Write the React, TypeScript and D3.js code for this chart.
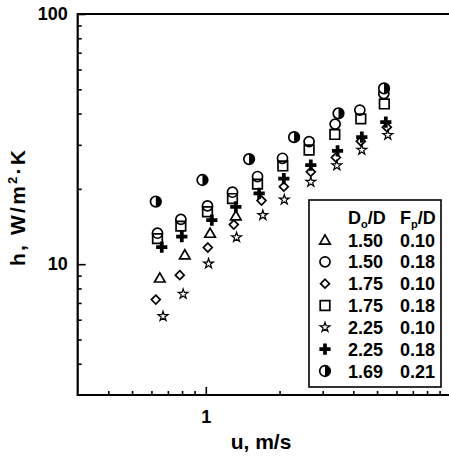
import React, { useEffect, useRef } from 'react';
import * as d3 from 'd3';

const W = 449;
const H = 458;

// legend columns
const doD = ['1.50', '1.50', '1.75', '1.75', '2.25', '2.25', '1.69'];
const fpD = ['0.10', '0.18', '0.10', '0.18', '0.10', '0.18', '0.21'];
const markers = ['triangle', 'circle', 'diamond', 'square', 'star', 'plus', 'half'];

// u, m/s and h, W/m2K per series
const uTri = [0.649, 0.821, 1.041, 1.326];
const hTri = [8.81, 10.9, 13.3, 15.6];

const uCirc = [0.635, 0.791, 1.016, 1.285, 1.626, 2.056, 2.64, 3.372, 4.253, 5.328];
const hCirc = [13.3, 15.1, 17.1, 19.4, 22.4, 26.5, 30.9, 36.3, 41.3, 48.1];

const uDiam = [0.625, 0.783, 1.019, 1.301, 1.688, 2.082, 2.683, 3.394, 4.293, 5.48];
const hDiam = [7.22, 9.04, 11.66, 14.4, 17.95, 20.4, 23.4, 26.7, 31.0, 35.3];

const uSq = [0.635, 0.791, 1.016, 1.285, 1.626, 2.062, 2.64, 3.362, 4.293, 5.354];
const hSq = [12.65, 14.2, 16.2, 18.3, 20.9, 24.7, 28.6, 33.0, 38.1, 43.7];

const uStar = [0.669, 0.808, 1.026, 1.335, 1.709, 2.091, 2.683, 3.426, 4.333, 5.533];
const hStar = [6.19, 7.6, 10.05, 12.8, 15.7, 18.1, 21.3, 24.8, 28.6, 32.8];

const uPlus = [0.661, 0.798, 1.058, 1.326, 1.651, 2.082, 2.683, 3.449, 4.333, 5.429];
const hPlus = [11.7, 12.9, 15.0, 16.95, 19.2, 22.0, 24.9, 28.4, 32.2, 37.0];

const uHalf = [0.625, 0.969, 1.502, 2.293, 3.48, 5.34];
const hHalf = [17.8, 21.7, 26.3, 32.2, 40.1, 50.4];

const uSeries = [uTri, uCirc, uDiam, uSq, uStar, uPlus, uHalf];
const hSeries = [hTri, hCirc, hDiam, hSq, hStar, hPlus, hHalf];

const xMinor = [0.4, 0.5, 0.6, 0.7, 0.8, 0.9, 2, 3, 4, 5, 6, 7, 8, 9];
const xMajor = [1];
const yMinor = [4, 5, 6, 7, 8, 9, 20, 30, 40, 50, 60, 70, 80, 90];
const yMajor = [10, 100];

const FONT = '"Liberation Sans", Arial, sans-serif';

function drawMarker(g, kind) {
  const sw = 1.7;
  if (kind === 'half') {
    const r = 5.3;
    g.append('circle').attr('r', r).attr('fill', 'white').attr('stroke', '#000').attr('stroke-width', sw);
    g.append('path').attr('d', `M0,${-r}A${r},${r} 0 0 1 0,${r}Z`).attr('fill', '#000');
    return;
  }
  const types = {
    triangle: [d3.symbolTriangle, 48],
    circle: [d3.symbolCircle, 80],
    diamond: [d3.symbolDiamond2, 50],
    square: [d3.symbolSquare, 92],
    star: [d3.symbolStar, 30],
    plus: [d3.symbolCross, 70],
  };
  const [type, size] = types[kind];
  const p = g.append('path').attr('d', d3.symbol(type, size)());
  if (kind === 'plus') p.attr('fill', '#000');
  else p.attr('fill', 'none').attr('stroke', '#000').attr('stroke-width', kind === 'star' ? 1.2 : sw);
  if (kind === 'triangle') p.attr('transform', 'translate(0,1)');
}

const Chart = () => {
  const ref = useRef(null);

  useEffect(() => {
    const svg = d3.select(ref.current);
    svg.selectAll('*').remove();

    const left = 77.7, top = 14, right = 450.8, bottom = 395;
    const x = d3.scaleLog().domain([0.3, 10]).range([left, right]);
    const y = d3.scaleLog().domain([3, 100]).range([bottom, top]);

    // ticks (inside)
    const gx = svg.append('g').attr('transform', `translate(0,${bottom})`);
    gx.call(d3.axisBottom(x).tickValues(xMinor).tickSize(-4).tickFormat(() => ''));
    const gx2 = svg.append('g').attr('transform', `translate(0,${bottom})`);
    gx2.call(d3.axisBottom(x).tickValues(xMajor).tickSize(-8).tickPadding(15).tickFormat(d3.format('d')));
    const gy = svg.append('g').attr('transform', `translate(${left},0)`);
    gy.call(d3.axisLeft(y).tickValues(yMinor).tickSize(-4).tickFormat(() => ''));
    const gy2 = svg.append('g').attr('transform', `translate(${left},0)`);
    gy2.call(d3.axisLeft(y).tickValues(yMajor).tickSize(-8).tickPadding(10).tickFormat(d3.format('d')));
    svg.selectAll('.domain').remove();
    svg.selectAll('.tick line').attr('stroke', '#000').attr('stroke-width', 1.6);
    svg.selectAll('.tick text')
      .attr('font-family', FONT).attr('font-size', 18).attr('font-weight', 'bold').attr('fill', '#000');

    // frame
    svg.append('path')
      .attr('d', `M${right},${bottom}H${left}V${top}H${right}Z`)
      .attr('fill', 'none').attr('stroke', '#000').attr('stroke-width', 2.2);

    // data
    markers.forEach((kind, i) => {
      uSeries[i].forEach((u, j) => {
        const g = svg.append('g').attr('transform', `translate(${x(u)},${y(hSeries[i][j])})`);
        drawMarker(g, kind);
      });
    });

    // axis titles
    svg.append('text')
      .attr('x', 261).attr('y', 449).attr('text-anchor', 'middle')
      .attr('font-family', FONT).attr('font-size', 21).attr('font-weight', 'bold')
      .text('u, m/s');
    const yl = svg.append('text')
      .attr('transform', 'translate(25,207) rotate(-90)').attr('text-anchor', 'middle')
      .attr('font-family', FONT).attr('font-size', 21).attr('font-weight', 'bold')
      .attr('letter-spacing', 2.2);
    yl.append('tspan').text('h, W/m');
    yl.append('tspan').attr('font-size', 13).attr('dy', -8).text('2');
    yl.append('tspan').attr('dy', 8).text('\u00b7K');

    // legend
    const lg = svg.append('g');
    lg.append('rect').attr('x', 309).attr('y', 200).attr('width', 132).attr('height', 187)
      .attr('fill', 'white').attr('stroke', '#000').attr('stroke-width', 1.6);
    const hdr = (xx, a, b) => {
      const t = lg.append('text').attr('x', xx).attr('y', 223.5)
        .attr('font-family', FONT).attr('font-size', 18).attr('font-weight', 'bold');
      t.append('tspan').text(a);
      t.append('tspan').attr('font-size', 11).attr('dy', 4).text(b);
      t.append('tspan').attr('dy', -4).text('/D');
    };
    hdr(348, 'D', 'o');
    hdr(400, 'F', 'p');
    const rowY = d3.scaleLinear().domain([0, markers.length - 1]).range([240, 371]);
    markers.forEach((kind, i) => {
      const g = lg.append('g').attr('transform', `translate(325,${rowY(i)})`);
      drawMarker(g, kind);
      lg.append('text').attr('x', 348).attr('y', rowY(i) + 6.5)
        .attr('font-family', FONT).attr('font-size', 18).attr('font-weight', 'bold').text(doD[i]);
      lg.append('text').attr('x', 400).attr('y', rowY(i) + 6.5)
        .attr('font-family', FONT).attr('font-size', 18).attr('font-weight', 'bold').text(fpD[i]);
    });
  }, []);

  return (
    <svg ref={ref} width={W} height={H} viewBox={`0 0 ${W} ${H}`}
      style={{ position: 'absolute', left: 0, top: 0, background: 'white' }} />
  );
};

export default function App() {
  return <Chart />;
}
